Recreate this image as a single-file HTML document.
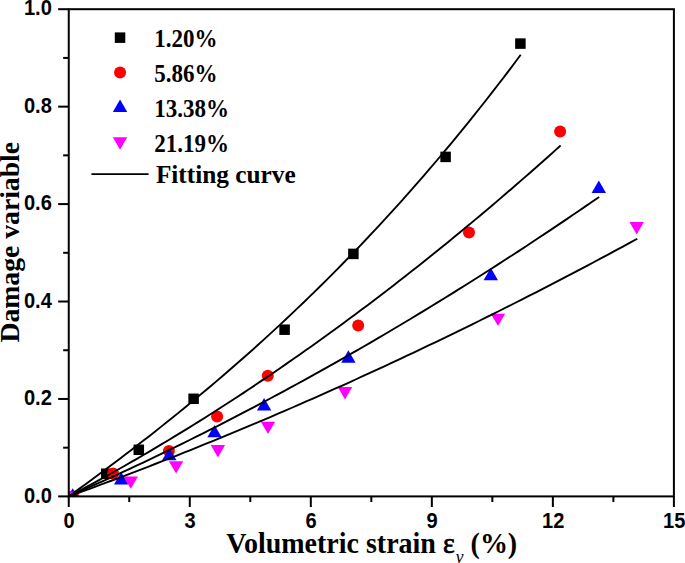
<!DOCTYPE html>
<html><head><meta charset="utf-8"><style>
html,body{margin:0;padding:0;background:#fff;}
body{width:685px;height:563px;overflow:hidden;position:relative;}
svg{position:absolute;left:0;top:0;}
.tk{font-family:"Liberation Sans",sans-serif;font-weight:bold;font-size:22.8px;fill:#000;}
.lg{font-family:"Liberation Serif",serif;font-weight:bold;font-size:23px;fill:#000;}
.tt{font-family:"Liberation Serif",serif;font-weight:bold;font-size:28px;fill:#000;}
</style></head><body>
<svg width="685" height="563" viewBox="0 0 685 563">
<defs><clipPath id="pa"><rect x="68.75" y="9.2" width="605.15" height="487.2"/></clipPath></defs>
<g clip-path="url(#pa)">
<rect x="101.05" y="468.45" width="10.5" height="10.5" fill="#000"/>
<rect x="133.55" y="444.55" width="10.5" height="10.5" fill="#000"/>
<rect x="188.35" y="393.55" width="10.5" height="10.5" fill="#000"/>
<rect x="279.35" y="324.45" width="10.5" height="10.5" fill="#000"/>
<rect x="348.15" y="248.65" width="10.5" height="10.5" fill="#000"/>
<rect x="440.35" y="151.65" width="10.5" height="10.5" fill="#000"/>
<rect x="515.15" y="38.35" width="10.5" height="10.5" fill="#000"/>
<circle cx="73.10" cy="496.50" r="6.0" fill="#ff0000"/>
<circle cx="113.10" cy="473.40" r="6.0" fill="#ff0000"/>
<circle cx="168.90" cy="451.00" r="6.0" fill="#ff0000"/>
<circle cx="217.10" cy="416.50" r="6.0" fill="#ff0000"/>
<circle cx="267.80" cy="375.70" r="6.0" fill="#ff0000"/>
<circle cx="358.20" cy="325.50" r="6.0" fill="#ff0000"/>
<circle cx="469.00" cy="232.60" r="6.0" fill="#ff0000"/>
<circle cx="560.10" cy="131.50" r="6.0" fill="#ff0000"/>
<path d="M72.70,488.20 L79.90,500.60 L65.50,500.60Z" fill="#0000ff"/>
<path d="M121.20,472.10 L128.40,484.50 L114.00,484.50Z" fill="#0000ff"/>
<path d="M169.30,447.80 L176.50,460.20 L162.10,460.20Z" fill="#0000ff"/>
<path d="M214.50,424.90 L221.70,437.30 L207.30,437.30Z" fill="#0000ff"/>
<path d="M264.10,398.10 L271.30,410.50 L256.90,410.50Z" fill="#0000ff"/>
<path d="M348.40,350.30 L355.60,362.70 L341.20,362.70Z" fill="#0000ff"/>
<path d="M490.80,267.80 L498.00,280.20 L483.60,280.20Z" fill="#0000ff"/>
<path d="M598.80,180.50 L606.00,192.90 L591.60,192.90Z" fill="#0000ff"/>
<path d="M61.30,491.50 L75.70,491.50 L68.50,503.90Z" fill="#ff00ff"/>
<path d="M123.60,476.40 L138.00,476.40 L130.80,488.80Z" fill="#ff00ff"/>
<path d="M168.90,461.20 L183.30,461.20 L176.10,473.60Z" fill="#ff00ff"/>
<path d="M210.70,445.10 L225.10,445.10 L217.90,457.50Z" fill="#ff00ff"/>
<path d="M260.80,421.70 L275.20,421.70 L268.00,434.10Z" fill="#ff00ff"/>
<path d="M337.80,387.10 L352.20,387.10 L345.00,399.50Z" fill="#ff00ff"/>
<path d="M490.80,313.70 L505.20,313.70 L498.00,326.10Z" fill="#ff00ff"/>
<path d="M629.50,222.00 L643.90,222.00 L636.70,234.40Z" fill="#ff00ff"/>
<path d="M68.75,496.40 L74.47,492.27 L80.19,488.12 L85.91,483.95 L91.63,479.75 L97.35,475.53 L103.08,471.29 L108.80,467.02 L114.52,462.72 L120.24,458.40 L125.96,454.06 L131.68,449.68 L137.40,445.28 L143.12,440.85 L148.84,436.39 L154.56,431.90 L160.28,427.37 L166.01,422.82 L171.73,418.24 L177.45,413.62 L183.17,408.98 L188.89,404.29 L194.61,399.58 L200.33,394.83 L206.05,390.04 L211.77,385.22 L217.49,380.36 L223.21,375.47 L228.93,370.54 L234.66,365.56 L240.38,360.55 L246.10,355.50 L251.82,350.42 L257.54,345.29 L263.26,340.11 L268.98,334.90 L274.70,329.64 L280.42,324.35 L286.14,319.00 L291.86,313.62 L297.59,308.18 L303.31,302.71 L309.03,297.18 L314.75,291.61 L320.47,285.99 L326.19,280.33 L331.91,274.61 L337.63,268.85 L343.35,263.04 L349.07,257.17 L354.79,251.26 L360.52,245.29 L366.24,239.27 L371.96,233.20 L377.68,227.07 L383.40,220.89 L389.12,214.66 L394.84,208.37 L400.56,202.03 L406.28,195.62 L412.00,189.17 L417.72,182.65 L423.44,176.08 L429.17,169.44 L434.89,162.75 L440.61,156.00 L446.33,149.18 L452.05,142.31 L457.77,135.37 L463.49,128.37 L469.21,121.31 L474.93,114.18 L480.65,106.99 L486.37,99.73 L492.10,92.41 L497.82,85.02 L503.54,77.57 L509.26,70.05 L514.98,62.46 L520.70,54.80" fill="none" stroke="#000" stroke-width="1.9" stroke-linejoin="round"/>
<path d="M68.75,496.40 L74.98,493.11 L81.20,489.79 L87.43,486.44 L93.65,483.06 L99.88,479.65 L106.11,476.21 L112.33,472.74 L118.56,469.24 L124.78,465.71 L131.01,462.16 L137.24,458.57 L143.46,454.96 L149.69,451.31 L155.91,447.64 L162.14,443.93 L168.37,440.20 L174.59,436.43 L180.82,432.64 L187.04,428.82 L193.27,424.97 L199.49,421.09 L205.72,417.18 L211.95,413.24 L218.17,409.27 L224.40,405.27 L230.62,401.24 L236.85,397.18 L243.08,393.09 L249.30,388.97 L255.53,384.83 L261.75,380.65 L267.98,376.45 L274.21,372.21 L280.43,367.95 L286.66,363.65 L292.88,359.33 L299.11,354.98 L305.34,350.59 L311.56,346.18 L317.79,341.74 L324.01,337.27 L330.24,332.77 L336.47,328.24 L342.69,323.68 L348.92,319.09 L355.14,314.47 L361.37,309.82 L367.60,305.15 L373.82,300.44 L380.05,295.70 L386.27,290.94 L392.50,286.14 L398.73,281.32 L404.95,276.46 L411.18,271.58 L417.40,266.67 L423.63,261.72 L429.86,256.75 L436.08,251.75 L442.31,246.72 L448.53,241.66 L454.76,236.57 L460.98,231.45 L467.21,226.30 L473.44,221.12 L479.66,215.91 L485.89,210.68 L492.11,205.41 L498.34,200.11 L504.57,194.79 L510.79,189.43 L517.02,184.04 L523.24,178.63 L529.47,173.19 L535.70,167.71 L541.92,162.21 L548.15,156.68 L554.37,151.12 L560.60,145.52" fill="none" stroke="#000" stroke-width="1.9" stroke-linejoin="round"/>
<path d="M68.75,496.40 L75.46,493.45 L82.18,490.48 L88.89,487.49 L95.61,484.47 L102.32,481.44 L109.04,478.38 L115.75,475.30 L122.47,472.20 L129.18,469.08 L135.90,465.93 L142.61,462.77 L149.32,459.58 L156.04,456.37 L162.75,453.14 L169.47,449.89 L176.18,446.62 L182.90,443.32 L189.61,440.01 L196.33,436.67 L203.04,433.31 L209.76,429.93 L216.47,426.53 L223.18,423.10 L229.90,419.66 L236.61,416.19 L243.33,412.70 L250.04,409.19 L256.76,405.66 L263.47,402.10 L270.19,398.53 L276.90,394.93 L283.62,391.31 L290.33,387.67 L297.04,384.01 L303.76,380.33 L310.47,376.62 L317.19,372.90 L323.90,369.15 L330.62,365.38 L337.33,361.59 L344.05,357.78 L350.76,353.94 L357.48,350.09 L364.19,346.21 L370.91,342.31 L377.62,338.39 L384.33,334.45 L391.05,330.48 L397.76,326.50 L404.48,322.49 L411.19,318.46 L417.91,314.41 L424.62,310.34 L431.34,306.25 L438.05,302.13 L444.77,298.00 L451.48,293.84 L458.19,289.66 L464.91,285.46 L471.62,281.24 L478.34,276.99 L485.05,272.73 L491.77,268.44 L498.48,264.13 L505.20,259.80 L511.91,255.45 L518.63,251.08 L525.34,246.68 L532.05,242.26 L538.77,237.83 L545.48,233.37 L552.20,228.88 L558.91,224.38 L565.63,219.86 L572.34,215.31 L579.06,210.74 L585.77,206.15 L592.49,201.54 L599.20,196.91" fill="none" stroke="#000" stroke-width="1.9" stroke-linejoin="round"/>
<path d="M68.75,496.40 L75.95,493.79 L83.14,491.17 L90.34,488.52 L97.54,485.87 L104.73,483.19 L111.93,480.50 L119.13,477.79 L126.32,475.06 L133.52,472.32 L140.72,469.56 L147.92,466.79 L155.11,463.99 L162.31,461.18 L169.51,458.36 L176.70,455.51 L183.90,452.66 L191.10,449.78 L198.29,446.89 L205.49,443.98 L212.69,441.05 L219.88,438.11 L227.08,435.15 L234.28,432.17 L241.47,429.18 L248.67,426.17 L255.87,423.14 L263.06,420.10 L270.26,417.03 L277.46,413.96 L284.66,410.86 L291.85,407.75 L299.05,404.63 L306.25,401.48 L313.44,398.32 L320.64,395.14 L327.84,391.95 L335.03,388.74 L342.23,385.51 L349.43,382.27 L356.62,379.00 L363.82,375.73 L371.02,372.43 L378.21,369.12 L385.41,365.79 L392.61,362.45 L399.80,359.09 L407.00,355.71 L414.20,352.31 L421.39,348.90 L428.59,345.47 L435.79,342.03 L442.99,338.56 L450.18,335.09 L457.38,331.59 L464.58,328.08 L471.77,324.55 L478.97,321.00 L486.17,317.44 L493.36,313.86 L500.56,310.27 L507.76,306.65 L514.95,303.02 L522.15,299.38 L529.35,295.71 L536.54,292.03 L543.74,288.34 L550.94,284.62 L558.13,280.89 L565.33,277.15 L572.53,273.38 L579.73,269.60 L586.92,265.81 L594.12,261.99 L601.32,258.16 L608.51,254.32 L615.71,250.45 L622.91,246.57 L630.10,242.68 L637.30,238.76" fill="none" stroke="#000" stroke-width="1.9" stroke-linejoin="round"/>
</g>
<rect x="68.75" y="9.2" width="605.15" height="487.2" fill="none" stroke="#000" stroke-width="2.0"/>
<line x1="58.15" y1="496.40" x2="68.75" y2="496.40" stroke="#000" stroke-width="2.0"/>
<text class="tk" transform="translate(51.8,502.50) scale(0.88,1)" text-anchor="end">0.0</text>
<line x1="63.15" y1="447.68" x2="68.75" y2="447.68" stroke="#000" stroke-width="2.0"/>
<line x1="58.15" y1="398.96" x2="68.75" y2="398.96" stroke="#000" stroke-width="2.0"/>
<text class="tk" transform="translate(51.8,405.06) scale(0.88,1)" text-anchor="end">0.2</text>
<line x1="63.15" y1="350.24" x2="68.75" y2="350.24" stroke="#000" stroke-width="2.0"/>
<line x1="58.15" y1="301.52" x2="68.75" y2="301.52" stroke="#000" stroke-width="2.0"/>
<text class="tk" transform="translate(51.8,307.62) scale(0.88,1)" text-anchor="end">0.4</text>
<line x1="63.15" y1="252.80" x2="68.75" y2="252.80" stroke="#000" stroke-width="2.0"/>
<line x1="58.15" y1="204.08" x2="68.75" y2="204.08" stroke="#000" stroke-width="2.0"/>
<text class="tk" transform="translate(51.8,210.18) scale(0.88,1)" text-anchor="end">0.6</text>
<line x1="63.15" y1="155.36" x2="68.75" y2="155.36" stroke="#000" stroke-width="2.0"/>
<line x1="58.15" y1="106.64" x2="68.75" y2="106.64" stroke="#000" stroke-width="2.0"/>
<text class="tk" transform="translate(51.8,112.74) scale(0.88,1)" text-anchor="end">0.8</text>
<line x1="63.15" y1="57.92" x2="68.75" y2="57.92" stroke="#000" stroke-width="2.0"/>
<line x1="58.15" y1="9.20" x2="68.75" y2="9.20" stroke="#000" stroke-width="2.0"/>
<text class="tk" transform="translate(51.8,15.30) scale(0.88,1)" text-anchor="end">1.0</text>
<line x1="68.75" y1="496.4" x2="68.75" y2="507.0" stroke="#000" stroke-width="2.0"/>
<text class="tk" transform="translate(69.05,528.0) scale(0.88,1)" text-anchor="middle">0</text>
<line x1="129.26" y1="496.4" x2="129.26" y2="502.0" stroke="#000" stroke-width="2.0"/>
<line x1="189.78" y1="496.4" x2="189.78" y2="507.0" stroke="#000" stroke-width="2.0"/>
<text class="tk" transform="translate(190.08,528.0) scale(0.88,1)" text-anchor="middle">3</text>
<line x1="250.30" y1="496.4" x2="250.30" y2="502.0" stroke="#000" stroke-width="2.0"/>
<line x1="310.81" y1="496.4" x2="310.81" y2="507.0" stroke="#000" stroke-width="2.0"/>
<text class="tk" transform="translate(311.11,528.0) scale(0.88,1)" text-anchor="middle">6</text>
<line x1="371.32" y1="496.4" x2="371.32" y2="502.0" stroke="#000" stroke-width="2.0"/>
<line x1="431.84" y1="496.4" x2="431.84" y2="507.0" stroke="#000" stroke-width="2.0"/>
<text class="tk" transform="translate(432.14,528.0) scale(0.88,1)" text-anchor="middle">9</text>
<line x1="492.36" y1="496.4" x2="492.36" y2="502.0" stroke="#000" stroke-width="2.0"/>
<line x1="552.87" y1="496.4" x2="552.87" y2="507.0" stroke="#000" stroke-width="2.0"/>
<text class="tk" transform="translate(553.17,528.0) scale(0.88,1)" text-anchor="middle">12</text>
<line x1="613.38" y1="496.4" x2="613.38" y2="502.0" stroke="#000" stroke-width="2.0"/>
<line x1="673.90" y1="496.4" x2="673.90" y2="507.0" stroke="#000" stroke-width="2.0"/>
<text class="tk" transform="translate(674.20,528.0) scale(0.88,1)" text-anchor="middle">15</text>
<rect x="114.80" y="32.40" width="10.5" height="10.5" fill="#000"/>
<text class="lg" transform="translate(154.2,46.70) scale(1,1.06)">1.20%</text>
<circle cx="120.05" cy="72.45" r="6.0" fill="#ff0000"/>
<text class="lg" transform="translate(154.2,81.70) scale(1,1.06)">5.86%</text>
<path d="M120.05,99.50 L127.25,111.90 L112.85,111.90Z" fill="#0000ff"/>
<text class="lg" transform="translate(154.2,116.70) scale(1,1.06)">13.38%</text>
<path d="M112.85,137.35 L127.25,137.35 L120.05,149.75Z" fill="#ff00ff"/>
<text class="lg" transform="translate(154.2,151.50) scale(1,1.06)">21.19%</text>
<line x1="91.4" y1="174.1" x2="148.6" y2="174.1" stroke="#000" stroke-width="1.9"/>
<text class="lg" x="155.9" y="182.9" style="font-size:25.3px">Fitting curve</text>
<text class="tt" transform="translate(226.3,553) scale(1,1.065)">Volumetric strain <tspan font-weight="normal" stroke="#000" stroke-width="0.7">&#949;</tspan><tspan font-style="italic" font-weight="normal" font-size="17.4" dx="1.2" dy="9">v</tspan><tspan dy="-9"> (%)</tspan></text>
<text class="tt" style="font-size:27.7px" transform="translate(19.2,342.6) rotate(-90)" x="0" y="0">Damage variable</text>
</svg></body></html>
